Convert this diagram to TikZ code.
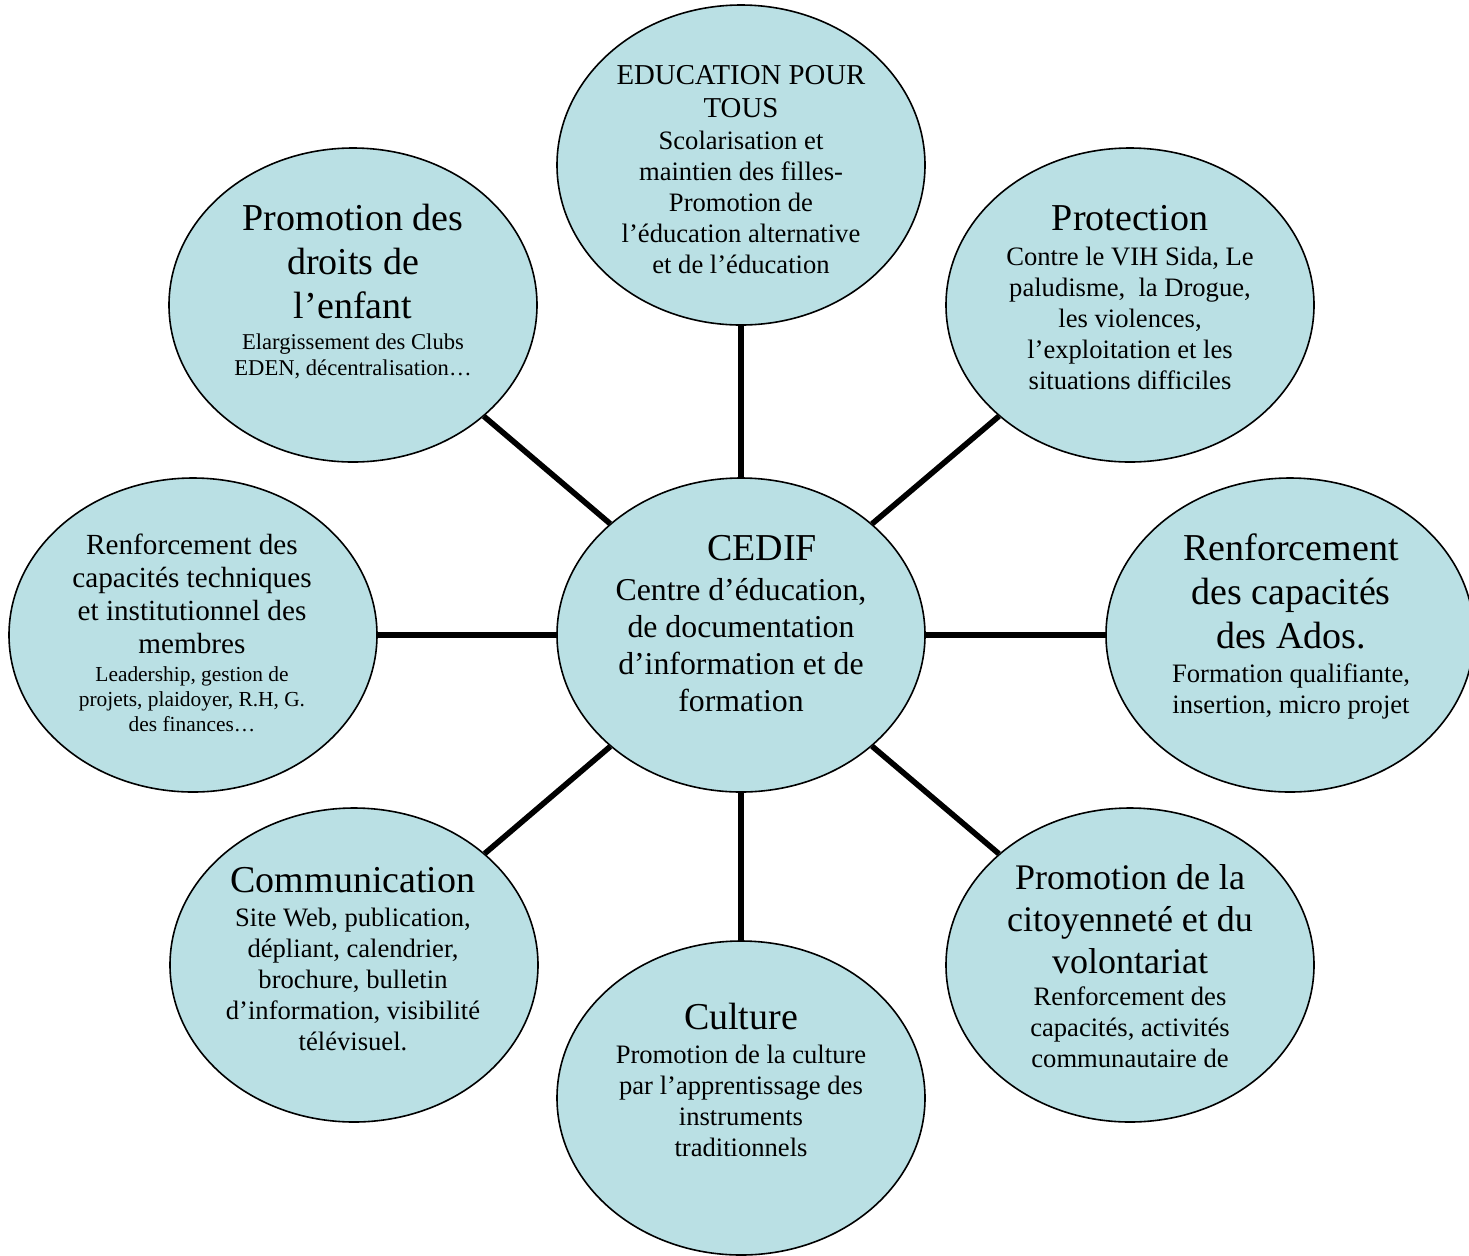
\documentclass[tikz,border=0pt]{standalone}
\usepackage{fontspec}
\setmainfont{Liberation Serif}
\usetikzlibrary{shapes.geometric}
\definecolor{bubblefill}{RGB}{186,224,228}
\tikzset{
  bubble/.style={ellipse, draw=black, line width=0.8pt, fill=bubblefill,
    inner sep=0pt, minimum width=184pt, minimum height=157pt},
  link/.style={line width=2.8pt, draw=black},
  txt/.style={align=center, inner sep=0pt, anchor=center},
  ttl/.style={txt, font=\fontsize{19}{22}\selectfont},
  bdy/.style={txt, font=\fontsize{13.3}{15.5}\selectfont},
}
\begin{document}
\begin{tikzpicture}[x=0.5pt,y=-0.5pt]
\useasboundingbox (0,0) rectangle (1469,1255);
% bubbles
\node[bubble] (C)  at (741,635) {};
\node[bubble, minimum height=160pt] (T) at (741,165) {};
\node[bubble] (TL) at (353,305) {};
\node[bubble] (TR) at (1130,305) {};
\node[bubble] (L)  at (193,635) {};
\node[bubble] (R)  at (1290,635) {};
\node[bubble] (BL) at (354,965) {};
\node[bubble] (B)  at (741,1098) {};
\node[bubble] (BR) at (1130,965) {};
% connectors
\foreach \s in {T,TL,TR,L,R,BL,B,BR}{\draw[link] (C) -- (\s);}
% texts
\node[txt, font=\fontsize{19}{22}\selectfont] (Ct) at (762,548) {CEDIF};
\node[txt, font=\fontsize{15.9}{18.5}\selectfont] (Cb) at (741,645)
  {Centre d’éducation,\\de documentation\\d’information et de\\formation};
\node[txt, font=\fontsize{14.4}{16.5}\selectfont] (Tt) at (741,92) {EDUCATION POUR\\TOUS};
\node[bdy] (Tb) at (741,202)
  {Scolarisation et\\maintien des filles-\\Promotion de\\l’éducation alternative\\et de l’éducation};
\node[ttl] (TLt) at (353,261) {Promotion des\\droits de\\l’enfant};
\node[txt, font=\fontsize{11.3}{13}\selectfont] (TLb) at (353,356)
  {Elargissement des Clubs\\EDEN, décentralisation…};
\node[ttl] (TRt) at (1130,218) {Protection};
\node[bdy] (TRb) at (1130,318)
  {Contre le VIH Sida, Le\\paludisme,\ \ la Drogue,\\les violences,\\l’exploitation et les\\situations difficiles};
\node[txt, font=\fontsize{14.6}{16.5}\selectfont] (Lt) at (192,594)
  {Renforcement des\\capacités techniques\\et institutionnel des\\membres};
\node[txt, font=\fontsize{10.7}{12.5}\selectfont] (Lb) at (192,699)
  {Leadership, gestion de\\projets, plaidoyer, R.H, G.\\des finances…};
\node[ttl] (Rt) at (1291,591) {Renforcement\\des capacités\\des Ados.};
\node[bdy] (Rb) at (1291,691) {Formation qualifiante,\\insertion, micro projet};
\node[ttl] (BLt) at (353,880) {Communication};
\node[bdy] (BLb) at (353,979)
  {Site Web, publication,\\dépliant, calendrier,\\brochure, bulletin\\d’information, visibilité\\télévisuel.};
\node[ttl] (Bt) at (741,1016) {Culture};
\node[bdy] (Bb) at (741,1101)
  {Promotion de la culture\\par l’apprentissage des\\instruments\\traditionnels};
\node[txt, font=\fontsize{18}{21}\selectfont] (BRt) at (1130,919)
  {Promotion de la\\citoyenneté et du\\volontariat};
\node[bdy] (BRb) at (1130,1027)
  {Renforcement des\\capacités, activités\\communautaire de};
\end{tikzpicture}
\end{document}
